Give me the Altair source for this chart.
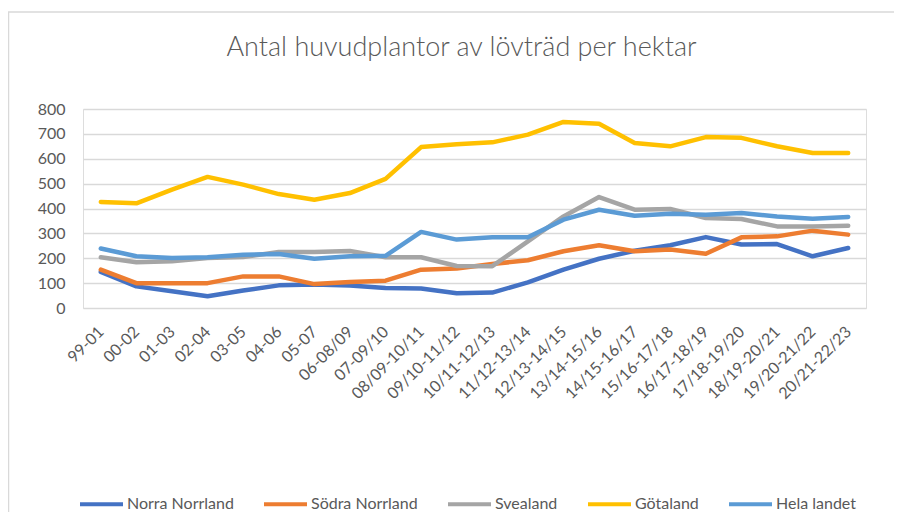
import altair as alt
import pandas as pd

categories = ["99-01", "00-02", "01-03", "02-04", "03-05", "04-06", "05-07",
              "06-08/09", "07-09/10", "08/09-10/11", "09/10-11/12", "10/11-12/13",
              "11/12-13/14", "12/13-14/15", "13/14-15/16", "14/15-16/17",
              "15/16-17/18", "16/17-18/19", "17/18-19/20", "18/19-20/21",
              "19/20-21/22", "20/21-22/23"]

norra_norrland = [145, 87, 67, 47, 70, 91, 94, 90, 80, 78, 59, 62, 103, 154, 198, 230, 252, 285, 255, 257, 208, 241]
sodra_norrland = [154, 100, 100, 100, 127, 127, 96, 105, 110, 154, 159, 177, 192, 228, 252, 228, 235, 218, 284, 288, 311, 295]
svealand = [204, 184, 188, 201, 205, 225, 225, 229, 204, 204, 169, 168, 268, 368, 446, 395, 398, 362, 358, 328, 328, 331]
gotaland = [426, 421, 476, 527, 496, 458, 435, 462, 519, 647, 658, 666, 697, 748, 741, 663, 650, 687, 684, 650, 623, 623]
hela_landet = [239, 208, 201, 204, 214, 217, 198, 208, 210, 306, 275, 284, 284, 355, 395, 371, 379, 375, 382, 368, 359, 366]

series_names = ["Norra Norrland", "Södra Norrland", "Svealand", "Götaland", "Hela landet"]
series_values = [norra_norrland, sodra_norrland, svealand, gotaland, hela_landet]
series_colors = ["#4472C4", "#ED7D31", "#A5A5A5", "#FFC000", "#5B9BD5"]

rows = []
for si, (name, vals) in enumerate(zip(series_names, series_values)):
    for ci, (c, v) in enumerate(zip(categories, vals)):
        rows.append({"period": c, "value": v, "serie": name, "order": si})
df = pd.DataFrame(rows)

W, H = 783, 199
PAD = {"left": 75, "top": 101, "right": 28, "bottom": 204}
FONT = "Lato"
GREY = "#595959"
GRID = "#D9D9D9"

lines = alt.Chart(df).mark_line(strokeWidth=4.5, strokeJoin="round", strokeCap="round").encode(
    x=alt.X("period:N", sort=categories, title=None,
            scale=alt.Scale(padding=0.5),
            axis=alt.Axis(labelAngle=-45, labelAlign="right", labelBaseline="middle",
                          labelPadding=21, ticks=False, domain=False, grid=False,
                          labelFont=FONT, labelFontSize=16, labelColor=GREY)),
    y=alt.Y("value:Q", title=None,
            scale=alt.Scale(domain=[0, 800], nice=False),
            axis=alt.Axis(values=list(range(0, 801, 100)), ticks=False, domain=False,
                          grid=True, gridColor=GRID, gridWidth=1.3,
                          labelFont=FONT, labelFontSize=16, labelColor=GREY,
                          labelPadding=18)),
    color=alt.Color("serie:N", sort=series_names,
                    scale=alt.Scale(domain=series_names, range=series_colors),
                    legend=alt.Legend(title=None, orient="none", direction="horizontal",
                                      legendX=-5, legendY=371.5, symbolType="stroke",
                                      symbolSize=1849, symbolStrokeWidth=4,
                                      labelFont=FONT, labelFontSize=16, labelColor=GREY,
                                      labelOffset=2, columnPadding=22, padding=0)),
    order=alt.Order("order:Q"),
    detail="serie:N",
)

frame_df = pd.DataFrame({"k": [0]})
top_border = alt.Chart(frame_df).mark_rule(color=GRID, strokeWidth=1.5).encode(
    x=alt.value(-75), x2=alt.value(W + PAD["right"]), y=alt.value(-97))
left_border = alt.Chart(frame_df).mark_rule(color=GRID, strokeWidth=1.5).encode(
    x=alt.value(-74.5), y=alt.value(-97), y2=alt.value(H + PAD["bottom"]))

chart = alt.layer(top_border, left_border, lines).properties(
    width=W, height=H,
    title=alt.TitleParams("Antal huvudplantor av lövträd per hektar", font=FONT,
                          fontSize=27, fontWeight=300, color=GREY, anchor="middle",
                          dx=-13, offset=-51),
    autosize=alt.AutoSizeParams(type="none"),
    padding=PAD,
).configure_view(stroke=None).configure(background="white")

chart.save("out.html", embed_options={"renderer": "svg", "actions": False})
